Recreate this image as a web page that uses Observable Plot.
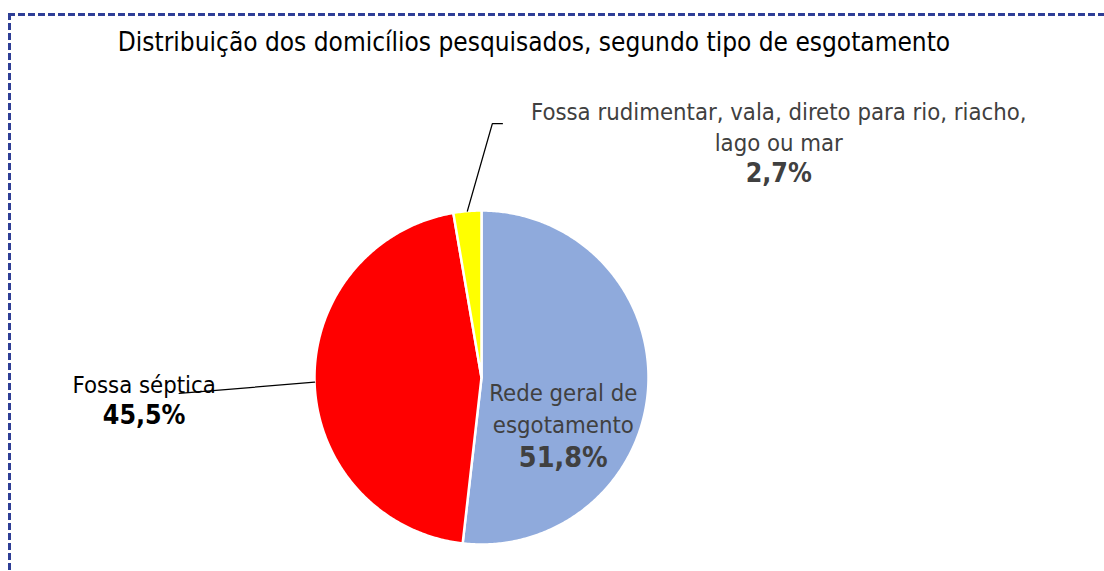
<!DOCTYPE html>
<html>
<head>
<meta charset="utf-8">
<script src="https://cdn.jsdelivr.net/npm/d3@7"></script>
<script src="https://cdn.jsdelivr.net/npm/@observablehq/plot@0.6"></script>
<style>
  html, body { margin: 0; padding: 0; background: #fff; }
  body { width: 1104px; height: 571px; position: relative; overflow: hidden;
         font-family: "DejaVu Sans Condensed", "DejaVu Sans", sans-serif; font-stretch: condensed; }
  .edge-top { position: absolute; left: 8px; top: 13px; width: 1100px; height: 2.5px;
    background: repeating-linear-gradient(90deg, #2E3E96 0 7px, transparent 7px 10px); }
  .edge-left { position: absolute; left: 8px; top: 13px; width: 2.5px; height: 600px;
    background: repeating-linear-gradient(180deg, #2E3E96 0 7px, transparent 7px 10px); }
  #title { position: absolute; left: 0; top: 0; width: 1068px; height: 60px; line-height: 60px;
    padding-top: 12px; box-sizing: border-box; text-align: center; font-size: 26px; color: #000; }
  #chart { position: absolute; left: 0; top: 60px; }
</style>
</head>
<body>
<div class="edge-top"></div>
<div class="edge-left"></div>
<div id="title">Distribuição dos domicílios pesquisados, segundo tipo de esgotamento</div>
<div id="chart"></div>
<script>
// ---- data ----
const categories = ["Rede geral de esgotamento", "Fossa séptica", "Fossa rudimentar, vala, direto para rio, riacho, lago ou mar"];
const labelLines = [["Rede geral de", "esgotamento"], ["Fossa séptica"], ["Fossa rudimentar, vala, direto para rio, riacho,", "lago ou mar"]];
const values = [51.8, 45.5, 2.7];
const valueLabels = ["51,8%", "45,5%", "2,7%"];
const colors = ["#8FAADC", "#FF0000", "#FFFF00"];

// ---- layout (pie-radius units; centre of pie = 0,0) ----
const R = 167;            // pixels per unit (pie radius)
const W = 1104, H = 511;
const cx = 481, cy = 317; // pie centre inside svg, pixels
const textColors = ["#404040", "#000000", "#404040"];
const labelFirstY = [-0.096, -0.048, 1.587];
const labelX = [0.49, -2.02, 1.78];
const labelStep = [32 / R, 30 / R, 30.5 / R];
const pctSize = [28.5, 26.5, 26.5];
const leaderStart = [null, [[-1.81, -0.095]], [[0.125, 1.52], [0.065, 1.52]]];
const FONT = "DejaVu Sans Condensed, DejaVu Sans, sans-serif";

const total = d3.sum(values);
let acc = 0;
const slices = values.map((v, i) => {
  const a0 = acc / total * 2 * Math.PI;
  acc += v;
  const a1 = acc / total * 2 * Math.PI;
  return {i, a0, a1, mid: (a0 + a1) / 2};
});

function arcPoints(s) {
  const pts = [[0, 0]];
  const n = Math.max(4, Math.ceil((s.a1 - s.a0) / 0.01));
  for (let k = 0; k <= n; k++) {
    const a = s.a0 + (s.a1 - s.a0) * k / n;
    pts.push([Math.sin(a), Math.cos(a)]);
  }
  pts.push([0, 0]);
  return pts;
}

const marks = [];
slices.forEach(s => {
  marks.push(Plot.line(arcPoints(s), {x: d => d[0], y: d => d[1], fill: colors[s.i],
    stroke: "#fff", strokeWidth: 2.5, strokeLinejoin: "round", curve: "linear"}));
});

// leader lines
slices.forEach(s => {
  const st = leaderStart[s.i];
  if (!st) return;
  const pts = [...st, [Math.sin(s.mid), Math.cos(s.mid)]];
  marks.push(Plot.line(pts, {x: d => d[0], y: d => d[1], stroke: "#000", strokeWidth: 1.3}));
});

// labels
slices.forEach(s => {
  const lines = labelLines[s.i].map((t, k) => ({t, x: labelX[s.i], y: labelFirstY[s.i] - k * labelStep[s.i]}));
  marks.push(Plot.text(lines, {x: "x", y: "y", text: "t", fill: textColors[s.i], fontSize: 23.7,
    textAnchor: "middle", lineAnchor: "middle", fontFamily: FONT}));
  const py = labelFirstY[s.i] - lines.length * labelStep[s.i];
  marks.push(Plot.text([{t: valueLabels[s.i], x: labelX[s.i], y: py}], {x: "x", y: "y", text: "t",
    fill: textColors[s.i], fontSize: pctSize[s.i], fontWeight: "bold", textAnchor: "middle",
    lineAnchor: "middle", fontFamily: FONT}));
});

const chart = Plot.plot({
  width: W, height: H, margin: 0,
  x: {domain: [-cx / R, (W - cx) / R], range: [0, W], axis: null},
  y: {domain: [-(H - cy) / R, cy / R], range: [H, 0], axis: null},
  style: {background: "transparent", overflow: "visible"},
  marks
});
document.getElementById("chart").appendChild(chart);
</script>
</body>
</html>
